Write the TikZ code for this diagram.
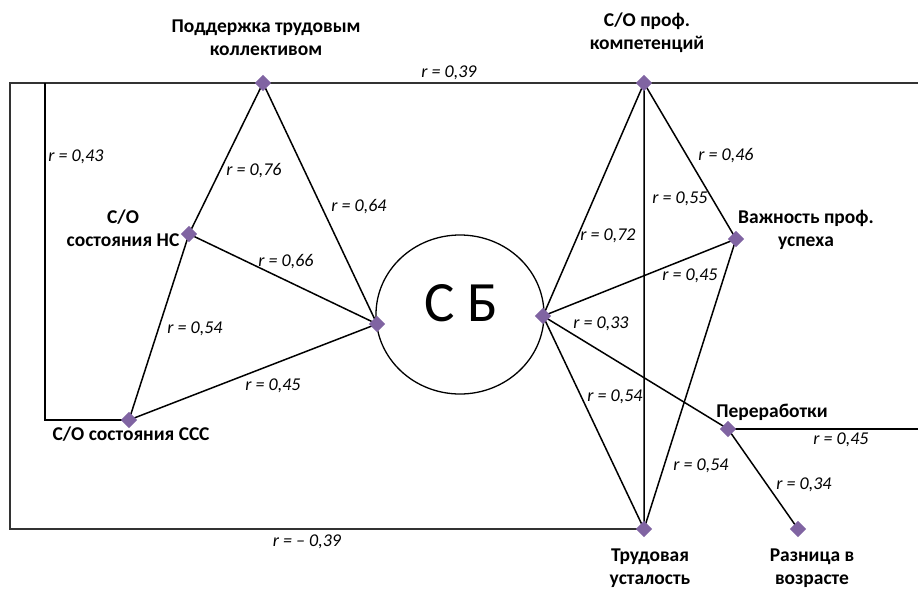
\documentclass[tikz,border=0pt]{standalone}
\usepackage{fontspec}
\setmainfont{Carlito}
\usetikzlibrary{shapes.geometric}
\definecolor{vertfill}{HTML}{8064A2}

\begin{document}
\begin{tikzpicture}[x=1pt,y=-1pt,line width=1.5pt,
  vert/.style={diamond,fill=vertfill,inner sep=0pt,minimum width=17pt,minimum height=17pt},
  rlab/.style={font=\fontsize{18}{20}\selectfont\itshape,inner sep=0pt},
  vlab/.style={font=\fontsize{19.5}{23}\selectfont\bfseries,align=center,inner sep=0pt},
  outerline/.style={black!80,line width=1.8pt}]
  \useasboundingbox (0,0) rectangle (918,589);
  % точки
  \coordinate (pt) at (263,83);
  \coordinate (ns) at (189,234);
  \coordinate (sss) at (129,420);
  \coordinate (sbl) at (377,324);
  \coordinate (sbr) at (543,316);
  \coordinate (pk) at (644,83);
  \coordinate (vu) at (736,239);
  \coordinate (pr) at (728,429);
  \coordinate (tu) at (644,529);
  \coordinate (rv) at (798,529);
  \coordinate (topL) at (10,83);
  \coordinate (topR) at (918,83);
  \coordinate (inL) at (45,83);
  \coordinate (prR) at (918,429);
  \node[draw,ellipse,line width=1.3pt,minimum width=168pt,minimum height=159pt] (sb) at (460,314.5) {};
  \node[font=\fontsize{57}{60}\selectfont,inner sep=0pt] (sbtext) at (461,303) {С Б};
  % рамка
  \draw[outerline] (topR) -- (topL) |- (tu);
  \draw (inL) |- (sss);
  \draw (pr) -- (prR);
  % связи
  \draw (pt) -- (ns) -- (sss) -- (sbl) -- (pt);
  \draw (ns) -- (sbl);
  \draw (pk) -- (sbr) -- (tu) -- (pk) -- (vu) -- (tu);
  \draw (vu) -- (sbr) -- (pr) -- (rv);
  \foreach \v in {pt,ns,sss,sbl,sbr,pk,vu,pr,tu,rv}
    \node[vert] (\v-m) at (\v) {};
  % коэффициенты
  \node[rlab] (r1) at (449,73) {r = 0,39};
  \node[rlab] (r2) at (76,157) {r = 0,43};
  \node[rlab] (r3) at (254,171) {r = 0,76};
  \node[rlab] (r4) at (359,207) {r = 0,64};
  \node[rlab] (r5) at (286,262) {r = 0,66};
  \node[rlab] (r6) at (195,329) {r = 0,54};
  \node[rlab] (r7) at (273,386) {r = 0,45};
  \node[rlab] (r8) at (307,542) {r = – 0,39};
  \node[rlab] (r9) at (726,156) {r = 0,46};
  \node[rlab] (r10) at (680,199) {r = 0,55};
  \node[rlab] (r11) at (608,236) {r = 0,72};
  \node[rlab] (r12) at (690,276) {r = 0,45};
  \node[rlab] (r13) at (601,324) {r = 0,33};
  \node[rlab] (r14) at (615,397) {r = 0,54};
  \node[rlab] (r15) at (701,466) {r = 0,54};
  \node[rlab] (r16) at (841,440) {r = 0,45};
  \node[rlab] (r17) at (804,485) {r = 0,34};
  % подписи
  \node[vlab] (ptlab) at (266,38) {Поддержка трудовым\\коллективом};
  \node[vlab] (pklab) at (647,33) {С/О проф.\\компетенций};
  \node[vlab] (nslab) at (123,228) {С/О\\состояния НС};
  \node[vlab] (ssslab) at (131,434) {С/О состояния ССС};
  \node[vlab] (vulab) at (806,230) {Важность проф.\\успеха};
  \node[vlab] (prlab) at (772,412) {Переработки};
  \node[vlab] (tulab) at (650,568) {Трудовая\\усталость};
  \node[vlab] (rvlab) at (812,568) {Разница в\\возрасте};
\end{tikzpicture}
\end{document}
